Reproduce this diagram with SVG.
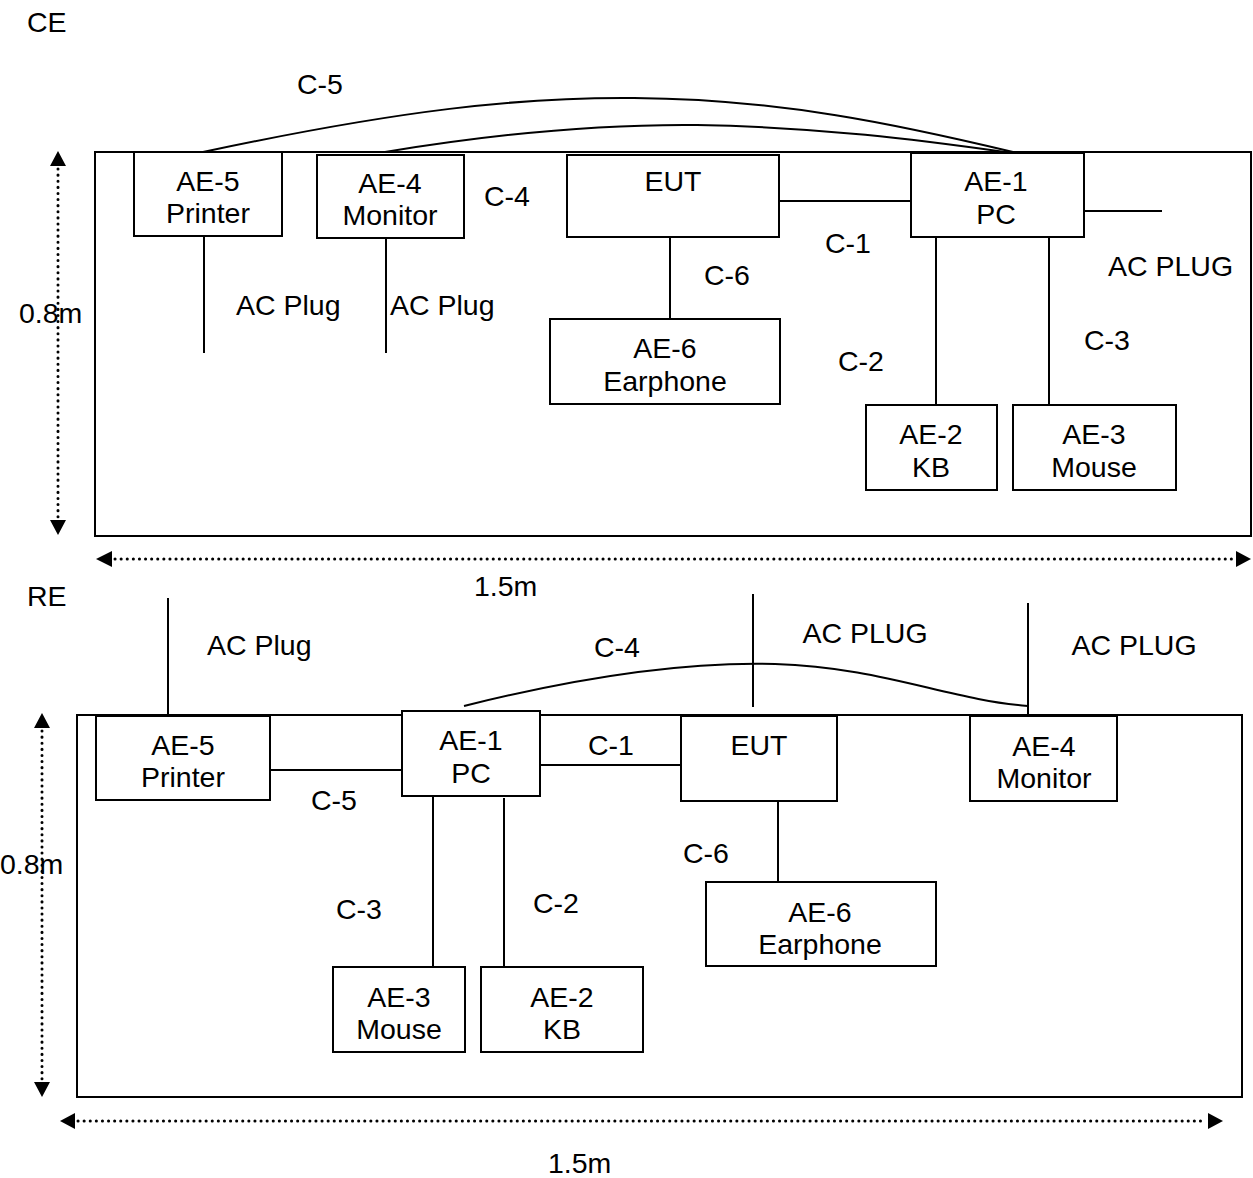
<svg xmlns="http://www.w3.org/2000/svg" width="1253" height="1178" viewBox="0 0 1253 1178">
<style>
text{font-family:"Liberation Sans",Arial,sans-serif;font-size:28.5px;fill:#000}
.m{text-anchor:middle}
.b{fill:#fff;stroke:#000;stroke-width:2}
.l{fill:none;stroke:#000;stroke-width:2}
.d{fill:none;stroke:#000;stroke-width:3;stroke-dasharray:0.1 6;stroke-linecap:round}
.h{fill:#000;stroke:none}
</style>
<rect width="1253" height="1178" fill="#fff"/>
<g id="frames">
<rect class="b" x="95" y="152" width="1156" height="384"/>
<rect class="b" x="77" y="715" width="1165" height="382"/>
</g>
<g id="connectors">
<path class="l" d="M203,152 C400,110 520,97 634,98 C780,99 900,125 1013,152"/>
<path class="l" d="M385,152 C500,133 600,124 697,125 C820,127 920,140 1005,152"/>
<line class="l" x1="204" y1="236" x2="204" y2="353"/>
<line class="l" x1="386" y1="238" x2="386" y2="353"/>
<line class="l" x1="670" y1="237" x2="670" y2="319"/>
<line class="l" x1="779" y1="201" x2="911" y2="201"/>
<line class="l" x1="1084" y1="211" x2="1162" y2="211"/>
<line class="l" x1="936" y1="237" x2="936" y2="405"/>
<line class="l" x1="1049" y1="237" x2="1049" y2="405"/>
<path class="l" d="M464,706 C600,672 700,662 775,664 C880,667 950,700 1028,706"/>
<line class="l" x1="168" y1="598" x2="168" y2="716"/>
<line class="l" x1="270" y1="770" x2="402" y2="770"/>
<line class="l" x1="540" y1="765" x2="681" y2="765"/>
<line class="l" x1="753" y1="594" x2="753" y2="707"/>
<line class="l" x1="1028" y1="603" x2="1028" y2="716"/>
<line class="l" x1="778" y1="801" x2="778" y2="882"/>
<line class="l" x1="433" y1="795" x2="433" y2="967"/>
<line class="l" x1="504" y1="798" x2="504" y2="967"/>
</g>
<g id="dimensions">
<line class="d" x1="58" y1="169" x2="58" y2="519"/>
<polygon class="h" points="58,151 50,166 66,166"/>
<polygon class="h" points="58,535 50,520 66,520"/>
<line class="d" x1="115" y1="559" x2="1234" y2="559"/>
<polygon class="h" points="96,559 112,551 112,567"/>
<polygon class="h" points="1251,559 1236,551 1236,567"/>
<line class="d" x1="42" y1="731" x2="42" y2="1080"/>
<polygon class="h" points="42,713 34,728 50,728"/>
<polygon class="h" points="42,1097 34,1082 50,1082"/>
<line class="d" x1="78" y1="1121" x2="1206" y2="1121"/>
<polygon class="h" points="60,1121 75,1113 75,1129"/>
<polygon class="h" points="1223,1121 1208,1113 1208,1129"/>
</g>
<g id="ce-ae5"><rect class="b" x="134" y="152" width="148" height="84"/><text class="m" x="208" y="191">AE-5</text><text class="m" x="208" y="223">Printer</text></g>
<g id="ce-ae4"><rect class="b" x="317" y="155" width="147" height="83"/><text class="m" x="390" y="193">AE-4</text><text class="m" x="390" y="225">Monitor</text></g>
<g id="ce-eut"><rect class="b" x="567" y="155" width="212" height="82"/><text class="m" x="673" y="191">EUT</text></g>
<g id="ce-ae1"><rect class="b" x="911" y="153" width="173" height="84"/><text class="m" x="996" y="191">AE-1</text><text class="m" x="996" y="224">PC</text></g>
<g id="ce-ae6"><rect class="b" x="550" y="319" width="230" height="85"/><text class="m" x="665" y="358">AE-6</text><text class="m" x="665" y="391">Earphone</text></g>
<g id="ce-ae2"><rect class="b" x="866" y="405" width="131" height="85"/><text class="m" x="931" y="444">AE-2</text><text class="m" x="931" y="477">KB</text></g>
<g id="ce-ae3"><rect class="b" x="1013" y="405" width="163" height="85"/><text class="m" x="1094" y="444">AE-3</text><text class="m" x="1094" y="477">Mouse</text></g>
<g id="re-ae5"><rect class="b" x="96" y="716" width="174" height="84"/><text class="m" x="183" y="755">AE-5</text><text class="m" x="183" y="787">Printer</text></g>
<g id="re-ae1"><rect class="b" x="402" y="711" width="138" height="85"/><text class="m" x="471" y="750">AE-1</text><text class="m" x="471" y="783">PC</text></g>
<g id="re-eut"><rect class="b" x="681" y="716" width="156" height="85"/><text class="m" x="759" y="755">EUT</text></g>
<g id="re-ae4"><rect class="b" x="970" y="716" width="147" height="85"/><text class="m" x="1044" y="756">AE-4</text><text class="m" x="1044" y="788">Monitor</text></g>
<g id="re-ae6"><rect class="b" x="706" y="882" width="230" height="84"/><text class="m" x="820" y="922">AE-6</text><text class="m" x="820" y="954">Earphone</text></g>
<g id="re-ae3"><rect class="b" x="333" y="967" width="132" height="85"/><text class="m" x="399" y="1007">AE-3</text><text class="m" x="399" y="1039">Mouse</text></g>
<g id="re-ae2"><rect class="b" x="481" y="967" width="162" height="85"/><text class="m" x="562" y="1007">AE-2</text><text class="m" x="562" y="1039">KB</text></g>
<g id="labels">
<text x="27" y="32">CE</text>
<text class="m" x="320" y="94">C-5</text>
<text class="m" x="507" y="206">C-4</text>
<text class="m" x="848" y="253">C-1</text>
<text class="m" x="727" y="285">C-6</text>
<text x="236" y="315">AC Plug</text>
<text x="390" y="315">AC Plug</text>
<text x="1108" y="276">AC PLUG</text>
<text class="m" x="1107" y="350">C-3</text>
<text class="m" x="861" y="371">C-2</text>
<text x="19" y="323">0.8m</text>
<text x="474" y="596">1.5m</text>
<text x="27" y="606">RE</text>
<text x="207" y="655">AC Plug</text>
<text class="m" x="617" y="657">C-4</text>
<text class="m" x="865" y="643">AC PLUG</text>
<text class="m" x="1134" y="655">AC PLUG</text>
<text class="m" x="611" y="755">C-1</text>
<text class="m" x="334" y="810">C-5</text>
<text x="0" y="874">0.8m</text>
<text class="m" x="706" y="863">C-6</text>
<text class="m" x="359" y="919">C-3</text>
<text class="m" x="556" y="913">C-2</text>
<text x="548" y="1173">1.5m</text>
</g>
</svg>
